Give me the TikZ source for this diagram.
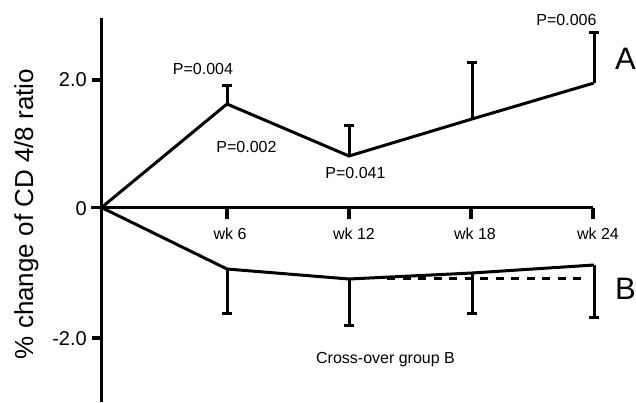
\documentclass[tikz,border=0pt]{standalone}
\usepackage{fontspec}
\setmainfont{Liberation Sans}
\begin{document}
\begin{tikzpicture}[x=1pt,y=-1pt,
  axis/.style={line width=3.2pt},
  dataline/.style={line width=3pt, line join=miter},
  errbar/.style={line width=3pt},
  dashline/.style={line width=3pt, dash pattern=on 8pt off 7.5pt},
  lbl/.style={inner sep=0pt, font=\fontsize{16}{16}\selectfont},
  ticklbl/.style={inner sep=0pt, anchor=east, font=\fontsize{20}{20}\selectfont},
  grp/.style={inner sep=0pt, anchor=west, font=\fontsize{31}{31}\selectfont}]
\useasboundingbox (0,0) rectangle (636,402);
% axes
\coordinate (O) at (101.5,207.5);
\coordinate (ytop) at (101.5,18);
\coordinate (ybot) at (101.5,402);
\coordinate (xend) at (593,207.5);
\draw[axis] (ytop) -- (ybot);
\draw[axis] (O) -- (xend);
% y ticks
\coordinate (yt2) at (101.5,80);
\coordinate (yt0) at (101.5,207.5);
\coordinate (ytm2) at (101.5,338);
\draw[axis] (yt2) -- ++(-10,0);
\draw[axis] (yt0) -- ++(-11,0);
\draw[axis] (ytm2) -- ++(-10,0);
\node[ticklbl] (l2) at (87,80) {2.0};
\node[ticklbl] (l0) at (87,209) {0};
\node[ticklbl] (lm2) at (87,339) {-2.0};
% x ticks
\coordinate (x6) at (227,207.5);
\coordinate (x12) at (349,207.5);
\coordinate (x18) at (471,207.5);
\coordinate (x24) at (593,207.5);
\foreach \t in {x6,x12,x18,x24}{\draw[axis] (\t) -- ++(0,11);}
\node[lbl] (w6) at (230,234) {wk 6};
\node[lbl] (w12) at (354,234) {wk 12};
\node[lbl] (w18) at (475,234) {wk 18};
\node[lbl] (w24) at (598,234) {wk 24};
% y label
\node[inner sep=0pt, anchor=base, rotate=90, font=\fontsize{26}{26}\selectfont] (ylab) at (33,214) {\% change of CD 4/8 ratio};
% group A
\coordinate (A1) at (227,104);
\coordinate (A2) at (349,156);
\coordinate (A3) at (472,119);
\coordinate (A4) at (594,83);
\coordinate (A1t) at (227,85);
\coordinate (A2t) at (349,125);
\coordinate (A3t) at (472,62);
\coordinate (A4t) at (594,32);
\foreach \p in {1,2,3,4}{
  \draw[errbar] (A\p) -- (A\p t);
  \draw[errbar] ([xshift=-5pt]A\p t) -- ([xshift=5pt]A\p t);
}
\draw[dataline] (O) -- (A1) -- (A2) -- (A3) -- (A4);
% group B
\coordinate (B1) at (227,269);
\coordinate (B2) at (349,279);
\coordinate (B3) at (472,273);
\coordinate (B4) at (594,265);
\coordinate (B1b) at (227,313);
\coordinate (B2b) at (349,325);
\coordinate (B3b) at (472,313);
\coordinate (B4b) at (594,317);
\foreach \p in {1,2,3,4}{
  \draw[errbar] (B\p) -- (B\p b);
  \draw[errbar] ([xshift=-5pt]B\p b) -- ([xshift=5pt]B\p b);
}
\draw[dataline] (O) -- (B1) -- (B2) -- (B3) -- (B4);
\coordinate (d1) at (387,278);
\coordinate (d2) at (587,278);
\draw[dashline] (d1) -- (d2);
% labels
\node[lbl] (p1) at (203,68.5) {P=0.004};
\node[lbl] (p2) at (246.5,147) {P=0.002};
\node[lbl] (p3) at (355.5,172.5) {P=0.041};
\node[lbl] (p4) at (566.5,20) {P=0.006};
\node[grp] (gA) at (615,59) {A};
\node[grp] (gB) at (615,289) {B};
\node[lbl, anchor=base] (cross) at (385.5,363) {Cross-over group B};
\end{tikzpicture}
\end{document}
